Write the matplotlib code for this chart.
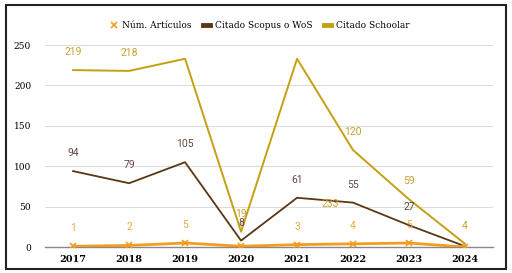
import matplotlib.pyplot as plt
from matplotlib.patches import Rectangle
from matplotlib.lines import Line2D

years = [2017, 2018, 2019, 2020, 2021, 2022, 2023, 2024]
articulos = [1, 2, 5, 1, 3, 4, 5, 0]
scopus = [94, 79, 105, 8, 61, 55, 27, 1]
schoolar = [219, 218, 233, 19, 233, 120, 59, 4]

# which labels are shown (the original hides some of them)
show_art = [True, True, True, True, True, True, True, False]
show_sco = [True, True, True, True, True, True, True, False]
show_sch = [True, True, False, True, False, True, True, True]

c_art = '#f39c1f'
c_sco = '#5b3716'
c_sch = '#c4a012'
c_art_lbl = '#f0a840'
c_sco_lbl = '#5e4a3e'
c_sch_lbl = '#c9a02e'

fig = plt.figure(figsize=(5.12, 2.73), dpi=100)
ax = fig.add_axes([0.088, 0.095, 0.875, 0.74])

ax.plot(years, schoolar, color=c_sch, lw=1.4, zorder=3)
ax.plot(years, scopus, color=c_sco, lw=1.3, zorder=3)
ax.plot(years, articulos, color=c_art, lw=2, marker='x', ms=4, mew=1.2, zorder=4)

lbl_font = dict(family='Roboto', fontsize=7.5, ha='center', va='center')
for x, a, s, c, sa, ss, sc in zip(years, articulos, scopus, schoolar, show_art, show_sco, show_sch):
    if sa:
        ax.annotate(str(a), (x, a), xytext=(0, 13), textcoords='offset points', color=c_art_lbl, **lbl_font)
    if ss:
        ax.annotate(str(s), (x, s), xytext=(0, 13), textcoords='offset points', color=c_sco_lbl, **lbl_font)
    if sc:
        ax.annotate(str(c), (x, c), xytext=(0, 13), textcoords='offset points', color=c_sch_lbl, **lbl_font)
# misplaced label from the original chart
ax.text(2021.6, 53, '233', color=c_sch_lbl, zorder=5, **lbl_font)

ax.set_xlim(2016.5, 2024.5)
ax.set_ylim(0, 250)
ax.set_yticks([0, 50, 100, 150, 200, 250])
ax.set_xticks(years)
ax.set_xticklabels([str(y) for y in years], family='DejaVu Serif', fontweight='bold', fontsize=7)
ax.set_yticklabels(['0', '50', '100', '150', '200', '250'], family='DejaVu Serif', fontsize=6.5)
ax.tick_params(length=0, pad=6)
ax.tick_params(axis='y', pad=10)
ax.grid(axis='y', color='#dddddd', lw=0.8)
for sp in ['top', 'right', 'left']:
    ax.spines[sp].set_visible(False)
ax.spines['bottom'].set_color('#888888')
ax.spines['bottom'].set_linewidth(1)
ax.set_axisbelow(True)

handles = [
    Line2D([], [], color=c_art, marker='x', ls='none', ms=5, mew=1.2),
    Line2D([], [], color=c_sco, lw=3.5),
    Line2D([], [], color=c_sch, lw=3.5),
]
fig.legend(handles, ['Núm. Artículos', 'Citado Scopus o WoS', 'Citado Schoolar'],
           loc='center', bbox_to_anchor=(0.507, 0.905), ncol=3, frameon=False,
           prop={'family': 'DejaVu Serif', 'size': 6.5}, handlelength=0.8,
           columnspacing=1.3, handletextpad=0.5)

fig.patches.append(Rectangle((0.012, 0.015), 0.976, 0.965, transform=fig.transFigure,
                             fill=False, edgecolor='#222222', lw=1.5))

fig.savefig('out.png', dpi=100)
